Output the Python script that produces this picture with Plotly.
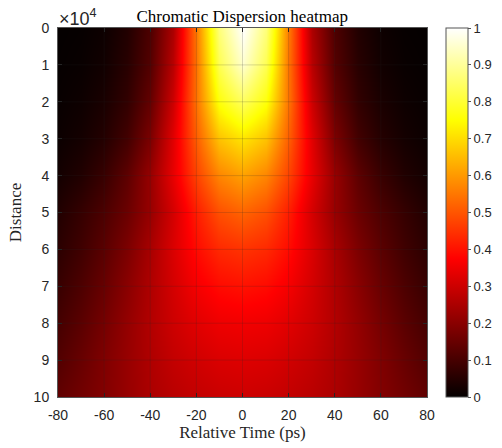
import plotly.graph_objects as go

# Relative time (ps) columns and distance rows (x1e4)
time_ps = [-80, -70, -60, -50, -40, -30, -20, -10, 0, 10, 20, 30, 40, 50, 60, 70, 80]
distance_e4 = [0, 1, 2, 3, 4, 5, 6, 7, 8, 9, 10]

# Intensity, one row per distance (symmetric in time)
row_z0 = [0.002, 0.005, 0.015, 0.045, 0.11, 0.25, 0.55, 0.87, 1.00, 0.87, 0.55, 0.25, 0.11, 0.045, 0.015, 0.005, 0.002]
row_z1 = [0.004, 0.009, 0.022, 0.055, 0.12, 0.27, 0.54, 0.83, 0.95, 0.83, 0.54, 0.27, 0.12, 0.055, 0.022, 0.009, 0.004]
row_z2 = [0.008, 0.016, 0.034, 0.07, 0.145, 0.30, 0.54, 0.76, 0.84, 0.76, 0.54, 0.30, 0.145, 0.07, 0.034, 0.016, 0.008]
row_z3 = [0.013, 0.026, 0.05, 0.095, 0.18, 0.33, 0.51, 0.66, 0.71, 0.66, 0.51, 0.33, 0.18, 0.095, 0.05, 0.026, 0.013]
row_z4 = [0.025, 0.045, 0.08, 0.135, 0.22, 0.34, 0.47, 0.57, 0.61, 0.57, 0.47, 0.34, 0.22, 0.135, 0.08, 0.045, 0.025]
row_z5 = [0.045, 0.075, 0.11, 0.155, 0.22, 0.31, 0.415, 0.49, 0.52, 0.49, 0.415, 0.31, 0.22, 0.155, 0.11, 0.075, 0.045]
row_z6 = [0.06, 0.09, 0.13, 0.18, 0.245, 0.32, 0.39, 0.435, 0.45, 0.435, 0.39, 0.32, 0.245, 0.18, 0.13, 0.09, 0.06]
row_z7 = [0.078, 0.11, 0.15, 0.20, 0.255, 0.31, 0.36, 0.39, 0.40, 0.39, 0.36, 0.31, 0.255, 0.20, 0.15, 0.11, 0.078]
row_z8 = [0.098, 0.13, 0.17, 0.215, 0.26, 0.30, 0.33, 0.35, 0.355, 0.35, 0.33, 0.30, 0.26, 0.215, 0.17, 0.13, 0.098]
row_z9 = [0.118, 0.15, 0.185, 0.22, 0.255, 0.285, 0.305, 0.32, 0.325, 0.32, 0.305, 0.285, 0.255, 0.22, 0.185, 0.15, 0.118]
row_z10 = [0.14, 0.165, 0.19, 0.22, 0.25, 0.27, 0.285, 0.295, 0.30, 0.295, 0.285, 0.27, 0.25, 0.22, 0.19, 0.165, 0.14]
intensity = [row_z0, row_z1, row_z2, row_z3, row_z4, row_z5, row_z6,
             row_z7, row_z8, row_z9, row_z10]

x_ticks = [-80, -60, -40, -20, 0, 20, 40, 60, 80]
x_tick_text = ["-80", "-60", "-40", "-20", "0", "20", "40", "60", "80"]
y_ticks = [0, 1, 2, 3, 4, 5, 6, 7, 8, 9, 10]
cbar_ticks = [0, 0.1, 0.2, 0.3, 0.4, 0.5, 0.6, 0.7, 0.8, 0.9, 1]

hot = [
    [0.0, "rgb(3,0,0)"],
    [0.375, "rgb(255,0,0)"],
    [0.75, "rgb(255,255,0)"],
    [1.0, "rgb(255,255,255)"],
]

SANS = "Liberation Sans"
SERIF = "Liberation Serif"
AX = "#262626"
TICK_SIZE = 14
CBAR_TICK_SIZE = 13

fig = go.Figure(go.Heatmap(
    x=time_ps, y=distance_e4, z=intensity,
    zmin=0, zmax=1, zsmooth="best", colorscale=hot,
    colorbar=dict(
        x=1.052, xanchor="left", xpad=0, ypad=0,
        y=0.5, yanchor="middle", len=1, lenmode="fraction",
        thickness=22, thicknessmode="pixels",
        outlinecolor="#555555", outlinewidth=1,
        tickvals=cbar_ticks, ticks="outside", ticklen=3, tickcolor="#555555",
        tickfont=dict(family=SANS, size=CBAR_TICK_SIZE, color=AX),
    ),
))

shapes = []
for v in x_ticks[1:-1]:
    shapes.append(dict(type="line", xref="x", yref="paper", x0=v, x1=v, y0=0, y1=1,
                       line=dict(color="rgba(38,38,38,0.18)", width=1), layer="above"))
for v in y_ticks[1:-1]:
    shapes.append(dict(type="line", xref="paper", yref="y", x0=0, x1=1, y0=v, y1=v,
                       line=dict(color="rgba(38,38,38,0.18)", width=1), layer="above"))

fig.update_layout(
    width=502, height=448,
    margin=dict(l=58, r=75, t=28, b=51, autoexpand=False),
    paper_bgcolor="white", plot_bgcolor="white",
    title=dict(text="Chromatic Dispersion heatmap", x=0.4825, xanchor="center",
               y=0.952, yanchor="bottom", yref="container",
               font=dict(family=SERIF, size=17, color="black")),
    xaxis=dict(range=[-80, 80], tickvals=x_ticks, ticktext=x_tick_text,
               ticks="inside", ticklen=4,
               tickcolor=AX, showline=True, linecolor="#555555", linewidth=1,
               mirror="ticks", showgrid=False, zeroline=False, layer="above traces",
               ticklabelstandoff=5, automargin=False,
               tickfont=dict(family=SANS, size=TICK_SIZE, color=AX),
               title=dict(text="Relative Time (ps)", standoff=1,
                          font=dict(family=SERIF, size=17, color=AX))),
    yaxis=dict(range=[10, 0], tickvals=y_ticks, ticks="inside", ticklen=4,
               tickcolor=AX, showline=True, linecolor="#555555", linewidth=1,
               mirror="ticks", showgrid=False, zeroline=False, layer="above traces",
               ticklabelstandoff=5, automargin=False,
               tickfont=dict(family=SANS, size=TICK_SIZE, color=AX),
               title=dict(text="Distance", standoff=7,
                          font=dict(family=SERIF, size=17, color=AX))),
    shapes=shapes,
    annotations=[dict(text="×10<sup>4</sup>", xref="paper", yref="paper",
                      x=0, y=1, xanchor="left", yanchor="bottom", showarrow=False,
                      xshift=-1, yshift=-3,
                      font=dict(family=SANS, size=18, color=AX))],
)

fig.write_html("out.html")
